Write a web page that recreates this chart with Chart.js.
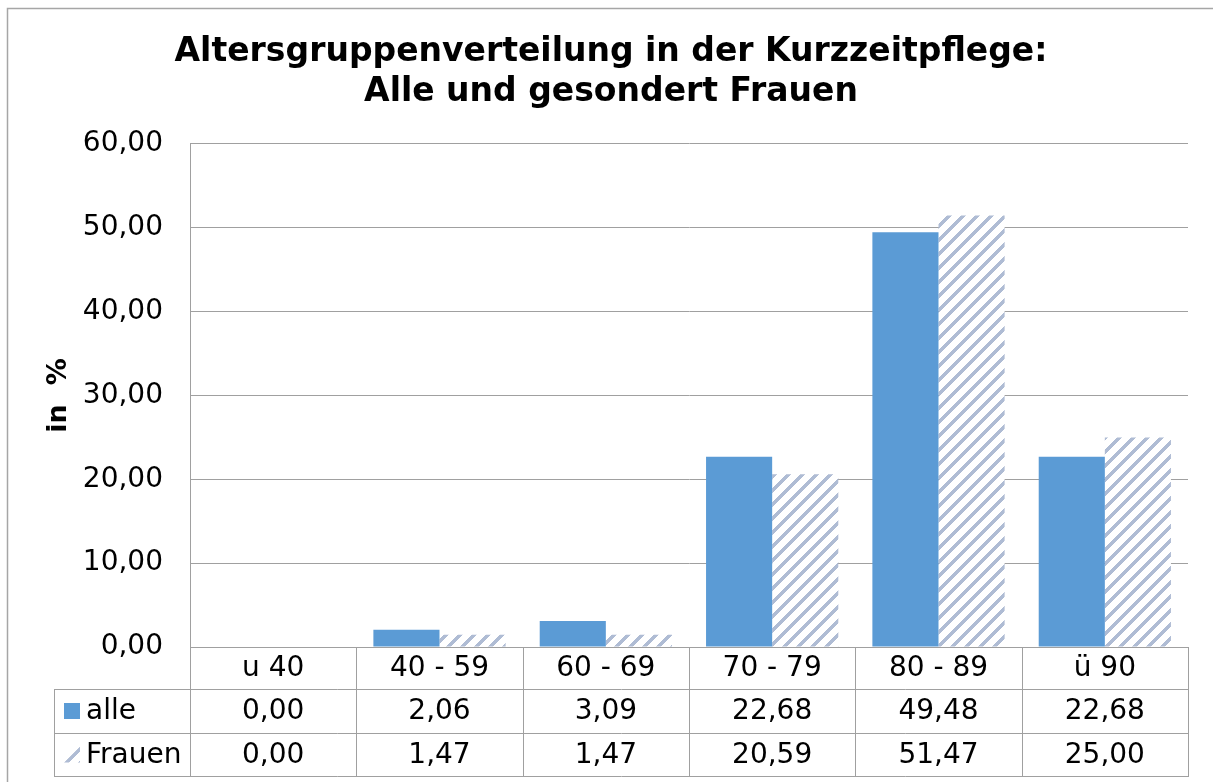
<!DOCTYPE html>
<html><head><meta charset="utf-8">
<script src="https://cdn.jsdelivr.net/npm/chart.js@4"></script>
<style>html,body{margin:0;padding:0;background:#fff;overflow:hidden}</style>
</head><body>
<canvas id="c" width="1213" height="782"></canvas>
<script>
const categories = ['u 40', '40 - 59', '60 - 69', '70 - 79', '80 - 89', 'ü 90'];
const alle = [0.00, 2.06, 3.09, 22.68, 49.48, 22.68];
const frauen = [0.00, 1.47, 1.47, 20.59, 51.47, 25.00];
const seriesNames = ['alle', 'Frauen'];
const yMin = 0, yMax = 60, yStep = 10;
const titleLines = ['Altersgruppenverteilung in der Kurzzeitpflege:', 'Alle und gesondert Frauen'];
const yTitle = 'in  %';

const FONT = "'DejaVu Sans', Verdana, sans-serif";
const BLUE = '#5b9bd5';
const HATCH = '#afbcd4';
const GRID = '#a0a0a0';
const fmt = v => v.toFixed(2).replace('.', ',');

const canvas = document.getElementById('c');
const mainCtx = canvas.getContext('2d');
function makeHatch() {
  const s = 14, sw = 5, p = document.createElement('canvas');
  p.width = p.height = s;
  const g = p.getContext('2d');
  g.fillStyle = '#fff'; g.fillRect(0, 0, s, s);
  g.fillStyle = HATCH;
  for (let y = 0; y < s; y++) {
    for (let x = 0; x < s; x++) {
      if ((x + y) % s < sw) g.fillRect(x, y, 1, 1);
    }
  }
  return mainCtx.createPattern(p, 'repeat');
}
const hatch = makeHatch();

const framePlugin = {
  id: 'frame',
  beforeDraw(chart) {
    const c = chart.ctx;
    c.save();
    c.fillStyle = '#fff';
    c.fillRect(0, 0, chart.width, chart.height);
    c.strokeStyle = '#a6a6a6'; c.lineWidth = 1.5;
    c.beginPath();
    c.moveTo(7.5, chart.height); c.lineTo(7.5, 8.5); c.lineTo(chart.width, 8.5);
    c.stroke();
    c.restore();
  }
};

const tablePlugin = {
  id: 'dataTable',
  afterDraw(chart) {
    const c = chart.ctx, a = chart.chartArea, x = chart.scales.x;
    const n = categories.length;
    const w = (a.right - a.left) / n;
    const y0 = a.bottom, y1 = y0 + 42, y2 = y1 + 44, y3 = y2 + 43;
    const legL = 54;
    c.save();
    c.strokeStyle = GRID; c.lineWidth = 1;
    c.beginPath();
    for (let i = 0; i <= n; i++) {
      const xx = Math.round(a.left + i * w) + 0.5;
      c.moveTo(xx, y0); c.lineTo(xx, y3);
    }
    c.moveTo(legL + 0.5, y1); c.lineTo(legL + 0.5, y3);
    for (const yy of [y1, y2, y3]) { c.moveTo(legL, yy + 0.5); c.lineTo(a.right + 1, yy + 0.5); }
    c.stroke();

    c.fillStyle = '#000';
    c.font = '28px ' + FONT;
    c.textAlign = 'center'; c.textBaseline = 'middle';
    const rows = [alle, frauen];
    for (let i = 0; i < n; i++) {
      const cx = x.getPixelForValue(i);
      c.fillText(categories[i], cx, (y0 + y1) / 2 + 1);
      c.fillText(fmt(rows[0][i]), cx, (y1 + y2) / 2 + 1);
      c.fillText(fmt(rows[1][i]), cx, (y2 + y3) / 2 + 1);
    }
    // legend keys
    c.fillStyle = BLUE;
    c.fillRect(64, (y1 + y2) / 2 - 8, 16, 16);
    c.fillStyle = hatch;
    c.beginPath();
    c.moveTo(64, (y2 + y3) / 2 + 8); c.lineTo(80, (y2 + y3) / 2 - 8); c.lineTo(80, (y2 + y3) / 2 + 8);
    c.closePath(); c.fill();
    c.fillStyle = '#000';
    c.textAlign = 'left';
    c.fillText(seriesNames[0], 86, (y1 + y2) / 2 + 1);
    c.fillText(seriesNames[1], 86, (y2 + y3) / 2 + 1);
    c.restore();
  }
};

new Chart(canvas, {
  type: 'bar',
  data: {
    labels: categories,
    datasets: [
      { label: seriesNames[0], data: alle, backgroundColor: BLUE, borderWidth: 0 },
      { label: seriesNames[1], data: frauen, backgroundColor: hatch, borderWidth: 0 }
    ]
  },
  options: {
    responsive: false,
    animation: false,
    devicePixelRatio: 1,
    layout: { padding: { left: 34, top: 0, right: 25, bottom: 135 } },
    datasets: { bar: { categoryPercentage: 0.795, barPercentage: 1 } },
    plugins: {
      legend: { display: false },
      tooltip: { enabled: false },
      title: {
        display: true,
        text: titleLines,
        color: '#000',
        font: { family: FONT, size: 33, weight: 'bold', lineHeight: 1.24 },
        padding: { top: 31.5, bottom: 30.6 }
      }
    },
    scales: {
      x: { display: false },
      y: {
        min: yMin, max: yMax,
        afterFit(s) { s.width = 156; },
        ticks: {
          stepSize: yStep,
          color: '#000',
          padding: 27,
          font: { family: FONT, size: 28 },
          callback: v => fmt(v)
        },
        grid: { color: GRID, lineWidth: 1, drawTicks: false },
        border: { color: GRID, width: 1 },
        title: {
          display: true,
          text: yTitle,
          color: '#000',
          font: { family: FONT, size: 27, weight: 'bold', lineHeight: 1.2 },
          padding: { top: 9, bottom: 0 }
        }
      }
    }
  },
  plugins: [framePlugin, tablePlugin]
});
</script>
</body></html>
